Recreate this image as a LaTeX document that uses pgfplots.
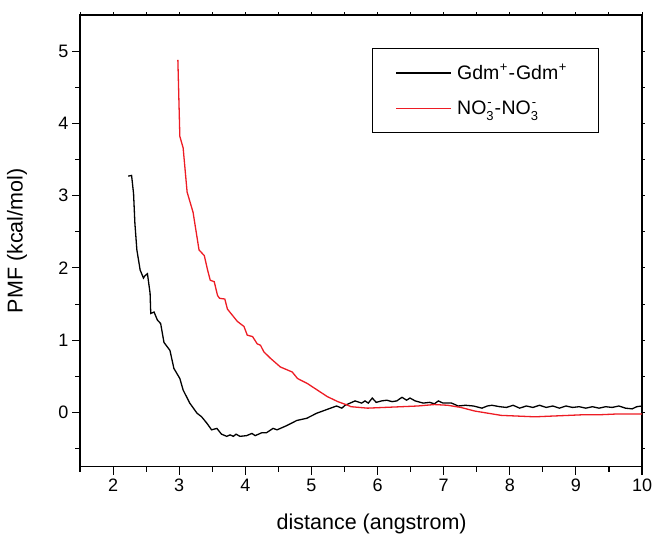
\documentclass[border=0pt]{standalone}
\usepackage{fontspec}
\setmainfont{Liberation Sans}
\usepackage{pgfplots}
\pgfplotsset{compat=1.18}
\definecolor{myred}{RGB}{237,28,36}
\newcommand\sups[1]{\raisebox{0.42em}{\fontsize{13bp}{13bp}\selectfont #1}}
\newcommand\subs[1]{\raisebox{-0.28em}{\fontsize{13bp}{13bp}\selectfont #1}}
\begin{document}
\begin{tikzpicture}[x=1bp,y=1bp]
\useasboundingbox (0,0) rectangle (654,536);
\begin{axis}[
  at={(80bp,69.3bp)}, anchor=south west,
  scale only axis, width=562bp, height=451.7bp,
  xmin=1.5, xmax=10, ymin=-0.75, ymax=5.5,
  xtick={2,3,4,5,6,7,8,9,10}, ytick={0,1,2,3,4,5},
  minor xtick={1.5,2.5,3.5,4.5,5.5,6.5,7.5,8.5,9.5},
  minor ytick={-0.5,0.5,1.5,2.5,3.5,4.5},
  tick align=outside, tick pos=left,
  major tick length=8bp, minor tick length=5bp,
  every tick/.style={black, line width=1.1bp},
  axis line style={line width=1.2bp},
  /pgf/number format/assume math mode=true,
  xticklabel={\pgfmathprintnumber{\tick}},
  yticklabel={\pgfmathprintnumber{\tick}},
  tick label style={font=\fontsize{18bp}{20bp}\selectfont},
  xticklabel style={yshift=-1bp},
  xlabel={distance (angstrom)},
  ylabel={PMF (kcal/mol)},
  label style={font=\fontsize{21.5bp}{24bp}\selectfont},
  xlabel style={at={(axis description cs:0.519,-0.127)}, anchor=center},
  ylabel style={at={(axis description cs:-0.112,0.5)}, anchor=center},
  legend cell align=left,
  legend image code/.code={\draw[#1, line width=1.5bp] (0bp,0bp) -- (55bp,0bp);},
  legend style={at={(axis description cs:0.52,0.926)}, anchor=north west,
    draw=black, line width=0.9bp, inner xsep=23bp, inner ysep=13.5bp,
    row sep=14.5bp,
    nodes={inner sep=0bp, text height=17bp, text depth=4bp},
    /tikz/every odd column/.append style={column sep=5bp},
    font=\fontsize{19.5bp}{21bp}\selectfont},
]
\addplot[black, line width=1.3bp] coordinates {
(2.23,3.27) (2.28,3.28) (2.31,3.03) (2.33,2.62) (2.36,2.25) (2.41,1.97)
(2.46,1.86) (2.48,1.89) (2.52,1.92) (2.56,1.65) (2.57,1.37) (2.62,1.39)
(2.67,1.28) (2.72,1.23) (2.77,0.97) (2.86,0.86) (2.92,0.61) (3.01,0.47)
(3.06,0.31) (3.16,0.13) (3.27,-0.01) (3.34,-0.06) (3.42,-0.15) (3.49,-0.24)
(3.57,-0.22) (3.64,-0.30) (3.72,-0.33) (3.77,-0.31) (3.82,-0.33) (3.86,-0.30)
(3.92,-0.33) (4.02,-0.32) (4.10,-0.29) (4.15,-0.32) (4.25,-0.28) (4.32,-0.28)
(4.42,-0.22) (4.48,-0.24) (4.63,-0.18) (4.78,-0.11) (4.93,-0.08) (5.08,-0.01)
(5.23,0.04) (5.38,0.09) (5.46,0.06) (5.51,0.10) (5.66,0.16) (5.76,0.13)
(5.81,0.16) (5.86,0.13) (5.92,0.20) (5.98,0.14) (6.06,0.16) (6.14,0.17)
(6.22,0.15) (6.29,0.16) (6.37,0.21) (6.44,0.17) (6.49,0.20) (6.57,0.16)
(6.69,0.13) (6.79,0.14) (6.86,0.12) (6.92,0.16) (6.99,0.13) (7.12,0.13)
(7.22,0.09) (7.33,0.10) (7.45,0.09) (7.58,0.06) (7.66,0.09) (7.73,0.10)
(7.85,0.08) (7.95,0.07) (8.05,0.10) (8.15,0.06) (8.25,0.09) (8.35,0.07)
(8.45,0.10) (8.55,0.07) (8.65,0.09) (8.75,0.06) (8.85,0.09) (8.95,0.07)
(9.05,0.08) (9.15,0.06) (9.25,0.08) (9.35,0.06) (9.45,0.08) (9.55,0.07)
(9.65,0.09) (9.75,0.06) (9.85,0.05) (9.92,0.08) (10.0,0.09)
};
\addlegendentry{\makebox[118bp][l]{Gdm\hspace{0.5bp}\sups{+}\hspace{1bp}-\hspace{1bp}Gdm\hspace{0.5bp}\sups{+}}}
\addplot[myred, line width=1.3bp] coordinates {
(2.98,4.88) (3.01,3.82) (3.06,3.66) (3.12,3.05) (3.21,2.77) (3.30,2.25)
(3.38,2.17) (3.43,1.97) (3.47,1.83) (3.53,1.81) (3.58,1.62) (3.61,1.58)
(3.69,1.57) (3.73,1.43) (3.88,1.26) (3.98,1.19) (4.03,1.07) (4.11,1.05)
(4.18,0.95) (4.23,0.93) (4.28,0.84) (4.38,0.75) (4.53,0.63) (4.71,0.56)
(4.79,0.47) (4.94,0.40) (5.09,0.31) (5.24,0.22) (5.40,0.15) (5.55,0.10)
(5.60,0.08) (5.85,0.06) (6.10,0.07) (6.36,0.08) (6.61,0.09) (6.86,0.11)
(7.06,0.10) (7.26,0.07) (7.47,0.02) (7.67,-0.01) (7.87,-0.04) (8.13,-0.05)
(8.38,-0.06) (8.63,-0.05) (8.89,-0.04) (9.14,-0.03) (9.39,-0.03) (9.64,-0.02)
(10.0,-0.02)
};
\addlegendentry{\makebox[118bp][l]{NO\rlap{\hspace{1bp}\sups{-}}\subs{3}\hspace{1bp}-\hspace{0.5bp}NO\rlap{\hspace{1bp}\sups{-}}\subs{3}}}
\end{axis}
\begin{axis}[
  at={(80bp,69.3bp)}, anchor=south west,
  scale only axis, width=562bp, height=451.7bp,
  xmin=1.5, xmax=10, ymin=-0.75, ymax=5.5,
  xtick={2,3,4,5,6,7,8,9,10}, ytick={0,1,2,3,4,5},
  minor xtick={1.5,2.5,3.5,4.5,5.5,6.5,7.5,8.5,9.5},
  minor ytick={-0.5,0.5,1.5,2.5,3.5,4.5},
  tick align=outside, tick pos=right,
  major tick length=2.5bp, minor tick length=2.5bp,
  every tick/.style={black, line width=1bp},
  axis line style={draw=none},
  xticklabels={}, yticklabels={},
]
\end{axis}
\end{tikzpicture}
\end{document}
